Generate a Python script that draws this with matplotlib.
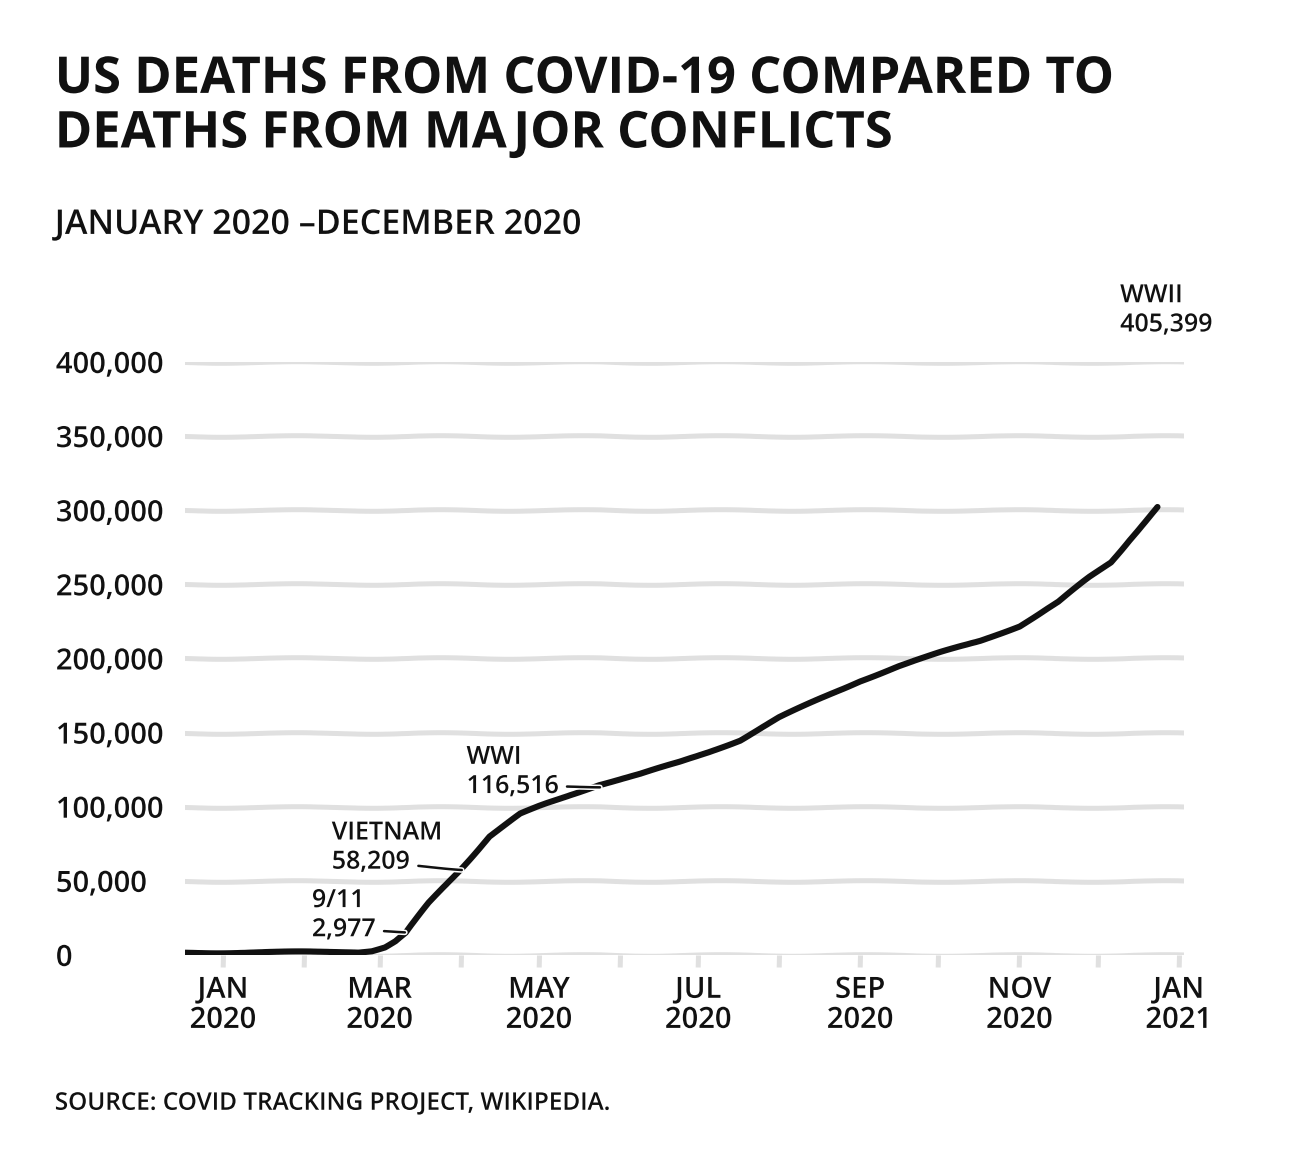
import matplotlib
matplotlib.use("Agg")
import matplotlib.pyplot as plt
import numpy as np

# cumulative US covid deaths (x = days since 1 Jan 2020)
days = [-14.5, 20, 52, 57, 62, 66, 70, 79, 91, 102, 114, 121, 133, 144, 160, 175,
        186, 198, 213, 229, 244, 259, 275, 290, 305, 320, 332, 340, 347, 358]
deaths = [1500, 1800, 2000, 3000, 5500, 9500, 15000, 35000, 58000, 80000, 95000,
          100000, 108000, 115000, 122000, 130000, 137000, 145000, 160000, 173000,
          185000, 195000, 204000, 212000, 222000, 238000, 255000, 265000, 280000,
          302000]

# conflicts: name, death count label, where the pointer touches the curve
conf_names = ["9/11", "VIETNAM", "WWI", "WWII"]
conf_counts = ["2,977", "58,209", "116,516", "405,399"]
tip_day = [69.7, 91.5, 144.4, None]
tip_val = [15600, 57800, 113600, None]
text_day = [34.1, 41.7, 93.3, 343.6]
text_val = [17000, 62600, 113600, 425000]

month_starts = [0, 31, 60, 91, 121, 152, 182, 213, 244, 274, 305, 335, 366]
month_labels = ["JAN\n2020", "", "MAR\n2020", "", "MAY\n2020", "", "JUL\n2020", "",
                "SEP\n2020", "", "NOV\n2020", "", "JAN\n2021"]
yticks = [0, 50000, 100000, 150000, 200000, 250000, 300000, 350000, 400000]

plt.xkcd(scale=0.8, length=160, randomness=2)
plt.rcParams['font.family'] = ['Open Sans', 'DejaVu Sans']
ink = "#111111"
grey = "#e0e0e0"

fig = plt.figure(figsize=(13.04, 11.68), dpi=100)
ax = fig.add_axes([0.1419, 0.1824, 0.766, 0.5077])

ax.plot(days, deaths, color=ink, lw=4.4, solid_capstyle='round')

ax.set_xlim(-14.5, 368)
ax.set_ylim(0, 400000)
for s in ax.spines.values():
    s.set_visible(False)

ax.set_yticks(yticks)
ax.set_yticklabels([f"{v:,}" for v in yticks])
ax.yaxis.grid(True, color=grey, lw=3.6)
ax.set_axisbelow(True)
ax.tick_params(axis='y', length=0, pad=93, labelsize=21, labelcolor=ink)
for t in ax.get_yticklabels():
    t.set_horizontalalignment('left')
    t.set_fontweight('semibold')

ax.set_xticks(month_starts)
ax.set_xticklabels(month_labels)
ax.tick_params(axis='x', length=9, width=3.6, color=grey, pad=6,
               labelsize=21, labelcolor=ink)
for t in ax.get_xticklabels():
    t.set_fontweight('semibold')
    t.set_linespacing(1.05)

for i in range(len(conf_names)):
    if tip_day[i] is not None:
        num = ax.annotate(conf_counts[i], xy=(tip_day[i], tip_val[i]),
                          xytext=(text_day[i], text_val[i]), ha='left', va='center',
                          fontsize=18, fontweight='semibold', color=ink,
                          annotation_clip=False,
                          arrowprops=dict(arrowstyle='-', color=ink, lw=1.8,
                                          shrinkA=4, shrinkB=0))
    else:
        num = ax.annotate(conf_counts[i], xy=(text_day[i], text_val[i]),
                          ha='left', va='center', fontsize=18, fontweight='semibold',
                          color=ink, annotation_clip=False)
    ax.annotate(conf_names[i], xy=(0, 1), xycoords=num, xytext=(0, 3),
                textcoords='offset points', ha='left', va='bottom',
                fontsize=18, fontweight='semibold', color=ink, annotation_clip=False)

fig.text(0.042, 0.953, "US DEATHS FROM COVID-19 COMPARED TO\nDEATHS FROM MAJOR CONFLICTS",
         ha='left', va='top', fontsize=36.5, fontweight='bold', color=ink, linespacing=1.12)
fig.text(0.042, 0.822, "JANUARY 2020 \u2013DECEMBER 2020", ha='left', va='top',
         fontsize=24.5, fontweight='semibold', color=ink)
fig.text(0.042, 0.055, "SOURCE: COVID TRACKING PROJECT, WIKIPEDIA.", ha='left', va='center',
         fontsize=17.5, fontweight='semibold', color=ink)

fig.savefig("out.png", dpi=100)
